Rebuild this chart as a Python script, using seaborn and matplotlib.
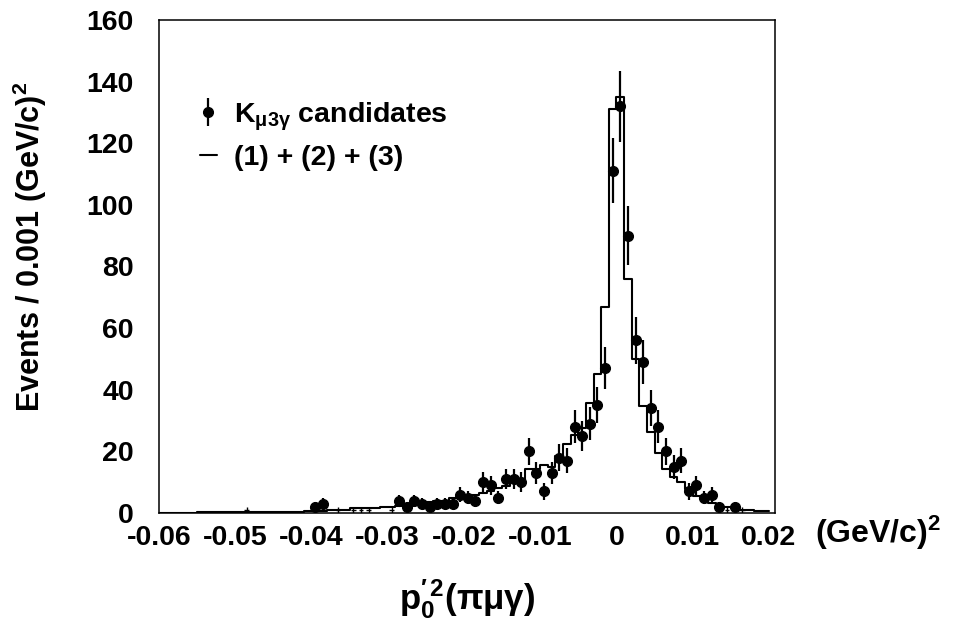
import numpy as np
import pandas as pd
import seaborn as sns
import matplotlib.pyplot as plt
from matplotlib.ticker import MultipleLocator

# bins are 0.001 wide, starting at -0.06
x_start = -0.06
bin_width = 0.001

# (1) + (2) + (3) expectation, one value per bin from -0.06 upwards
mc_values = [0.1, 0.1, 0.1, 0.1, 0.1, 0.2, 0.2, 0.2, 0.2, 0.2,
             0.2, 0.3, 0.3, 0.3, 0.3, 0.3, 0.3, 0.3, 0.3, 0.8,
             0.8, 0.8, 1.1, 1.1, 1.1, 1.5, 1.5, 1.5, 1.5, 2.0,
             2.0, 2.4, 2.8, 3.0, 3.3, 3.5, 3.8, 4.0, 4.8, 5.1,
             5.3, 5.8, 6.6, 7.1, 8.0, 8.8, 10.2, 10.9, 14.2, 14.2,
             15.6, 14.8, 18.5, 22.3, 25.3, 27.5, 35.6, 45.0, 67.0, 131.0,
             135.0, 76.0, 50.0, 34.7, 26.4, 19.6, 14.2, 11.8, 10.0, 7.7,
             5.6, 4.4, 3.1, 2.6, 2.0, 1.6, 1.0, 1.0, 0.6, 0.6]

# K_mu3gamma candidates: bin index and counts
data_bins = [20, 21, 31, 32, 33, 34, 35, 36, 37, 38,
             39, 40, 41, 42, 43, 44, 45, 46, 47, 48,
             49, 50, 51, 52, 53, 54, 55, 56, 57, 58,
             59, 60, 61, 62, 63, 64, 65, 66, 67, 68,
             69, 70, 71, 72, 73, 75]
data_counts = [2, 3, 4, 2, 4, 3, 2, 3, 3, 3,
               6, 5, 4, 10, 9, 5, 11, 11, 10, 20,
               13, 7, 13, 18, 17, 28, 25, 29, 35, 47,
               111, 132, 90, 56, 49, 34, 28, 20, 15, 17,
               7, 9, 5, 6, 2, 2]

# single weighted entries drawn as small crosses
low_bins = [11, 23, 25, 26, 27, 30, 74, 76]
low_counts = [1, 1, 1, 1, 1, 1, 1, 1]

xtick_labels = ['-0.06', '-0.05', '-0.04', '-0.03', '-0.02', '-0.01', '0', '0.01', '0.02']

sns.set_style('white')
plt.rcParams['font.family'] = ['Liberation Sans', 'DejaVu Sans']
plt.rcParams['font.weight'] = 'bold'
plt.rcParams['text.color'] = 'black'
plt.rcParams['axes.labelcolor'] = 'black'
plt.rcParams['mathtext.fontset'] = 'custom'
plt.rcParams['mathtext.rm'] = 'Liberation Sans:bold'
plt.rcParams['mathtext.bf'] = 'Liberation Sans:bold'
plt.rcParams['mathtext.it'] = 'Liberation Sans:bold'
plt.rcParams['mathtext.default'] = 'bf'

fig = plt.figure(figsize=(9.56, 6.28), dpi=100)
ax = fig.add_axes([0.1663, 0.1831, 0.6444, 0.7851])

n_bins = len(mc_values)
centers = x_start + bin_width * (np.arange(n_bins) + 0.5)
mc = pd.DataFrame({'x': centers, 'w': mc_values})

sns.histplot(data=mc, x='x', weights='w', binwidth=bin_width,
             binrange=(x_start, x_start + bin_width * n_bins),
             element='step', fill=False, color='black', linewidth=1.5,
             ax=ax, label='(1) + (2) + (3)')

dx = centers[data_bins]
ax.errorbar(dx, data_counts, yerr=np.sqrt(data_counts), fmt='o', color='black',
            ms=7, elinewidth=1.6, capsize=0, label=r'K$_{\mu3\gamma}$ candidates')

ax.errorbar(centers[low_bins], low_counts, yerr=1, xerr=0.0003, fmt='none',
            ecolor='black', elinewidth=1.0, capsize=0)

ax.set_xlim(-0.06, 0.0208)
ax.set_ylim(0, 160)

ax.set_xticks(np.round(np.arange(-0.06, 0.0201, 0.01), 3))
ax.set_xticklabels(xtick_labels)
ax.xaxis.set_minor_locator(MultipleLocator(0.002))
ax.yaxis.set_major_locator(MultipleLocator(20))
ax.yaxis.set_minor_locator(MultipleLocator(5))

ax.tick_params(which='both', direction='in', top=False, right=False, width=1.0,
               labelsize=20.5, colors='black')
ax.tick_params(axis='x', which='major', length=13, pad=8.5)
ax.tick_params(axis='x', which='minor', length=6)
ax.tick_params(axis='y', which='major', length=13, pad=18)
ax.tick_params(axis='y', which='minor', length=6.5)
for s in ax.spines.values():
    s.set_linewidth(1.1)
    s.set_color('black')

ax.set_ylabel(r'Events / 0.001 (GeV/c)$^{2}$', fontsize=22, fontweight='bold')
ax.yaxis.set_label_coords(-0.178, 0.54)
ax.set_xlabel(r"p$_{0}^{\prime\,2}$($\pi\mu\gamma$)", fontsize=25, fontweight='bold')
ax.xaxis.set_label_coords(0.5, -0.13)

fig.text(0.852, 0.1354, r'(GeV/c)$^{2}$', fontsize=23, fontweight='bold', va='baseline')

h, l = ax.get_legend_handles_labels()
order = [l.index(r'K$_{\mu3\gamma}$ candidates'), l.index('(1) + (2) + (3)')]
ax.legend([h[i] for i in order], [l[i] for i in order], loc='upper left',
          bbox_to_anchor=(0.066, 0.837), frameon=False, fontsize=20.5,
          handlelength=0.6, handletextpad=0.6, labelspacing=0.45,
          borderpad=0, borderaxespad=0)

plt.savefig('out.png', dpi=100)
